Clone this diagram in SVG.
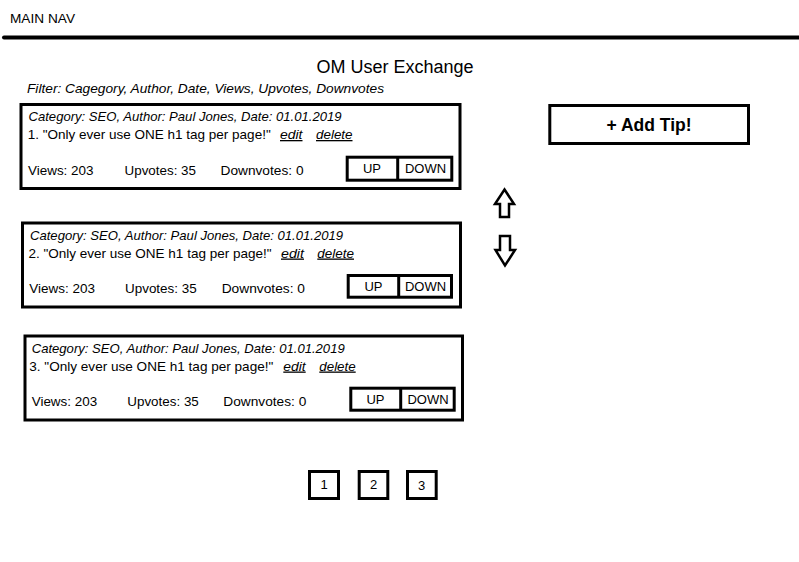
<svg xmlns="http://www.w3.org/2000/svg" width="799" height="562" viewBox="0 0 799 562">
<style>
text{font-family:"Liberation Sans",Arial,sans-serif;fill:#000;font-size:13px}
.it{font-style:italic}
.u{font-style:italic;text-decoration:underline}
.st{font-size:13.5px}
.box{fill:#fff;stroke:#000;stroke-width:3}
.div{stroke:#000;stroke-width:3}
.mid{text-anchor:middle}
.arrow{fill:#fff;stroke:#000;stroke-width:2.5;stroke-linejoin:miter}
</style>
<rect width="799" height="562" fill="#fff"/>
<g id="nav">
<text x="10" y="23" textLength="65" lengthAdjust="spacingAndGlyphs">MAIN NAV</text>
<line x1="4" y1="37.5" x2="799" y2="37.5" stroke="#000" stroke-width="4" stroke-linecap="round"/>
</g>
<g id="title">
<text x="395" y="73" class="mid" style="font-size:18px">OM User Exchange</text>
</g>
<g id="filter">
<text x="27" y="93" class="it" textLength="357" lengthAdjust="spacingAndGlyphs">Filter: Cagegory, Author, Date, Views, Upvotes, Downvotes</text>
</g>
<g id="card1">
<rect class="box" x="21" y="104.5" width="439" height="84"/>
<text x="28.5" y="121" class="it" textLength="313" lengthAdjust="spacingAndGlyphs">Category: SEO, Author: Paul Jones, Date: 01.01.2019</text>
<text x="27.7" y="139" textLength="243" lengthAdjust="spacingAndGlyphs">1. "Only ever use ONE h1 tag per page!"</text>
<text x="280" y="139" class="u" textLength="22.5" lengthAdjust="spacingAndGlyphs">edit</text>
<text x="316" y="139" class="u" textLength="36.5" lengthAdjust="spacingAndGlyphs">delete</text>
<text x="28" y="175" class="st" textLength="65.5" lengthAdjust="spacingAndGlyphs">Views: 203</text>
<text x="124.5" y="175" class="st" textLength="71.5" lengthAdjust="spacingAndGlyphs">Upvotes: 35</text>
<text x="220.5" y="175" class="st" textLength="83" lengthAdjust="spacingAndGlyphs">Downvotes: 0</text>
<g id="vote1">
<rect class="box" x="347.2" y="157.2" width="104.6" height="23"/>
<line class="div" x1="397.7" y1="157.2" x2="397.7" y2="180.2"/>
<text x="372" y="173" class="mid">UP</text>
<text x="425.5" y="173" class="mid">DOWN</text>
</g>
</g>
<g id="card2">
<rect class="box" x="22.5" y="223" width="438" height="84"/>
<text x="30" y="239.5" class="it" textLength="313" lengthAdjust="spacingAndGlyphs">Category: SEO, Author: Paul Jones, Date: 01.01.2019</text>
<text x="28.5" y="257.5" textLength="243" lengthAdjust="spacingAndGlyphs">2. "Only ever use ONE h1 tag per page!"</text>
<text x="281" y="257.5" class="u" textLength="23" lengthAdjust="spacingAndGlyphs">edit</text>
<text x="317.3" y="257.5" class="u" textLength="36.7" lengthAdjust="spacingAndGlyphs">delete</text>
<text x="29.3" y="293" class="st" textLength="65.7" lengthAdjust="spacingAndGlyphs">Views: 203</text>
<text x="125" y="293" class="st" textLength="71.7" lengthAdjust="spacingAndGlyphs">Upvotes: 35</text>
<text x="221.7" y="293" class="st" textLength="83.3" lengthAdjust="spacingAndGlyphs">Downvotes: 0</text>
<g id="vote2">
<rect class="box" x="348.2" y="275.5" width="103.3" height="21.7"/>
<line class="div" x1="398.7" y1="275.5" x2="398.7" y2="297.2"/>
<text x="373.5" y="291" class="mid">UP</text>
<text x="425.5" y="291" class="mid">DOWN</text>
</g>
</g>
<g id="card3">
<rect class="box" x="25" y="336" width="437.5" height="84"/>
<text x="31.7" y="352.5" class="it" textLength="313" lengthAdjust="spacingAndGlyphs">Category: SEO, Author: Paul Jones, Date: 01.01.2019</text>
<text x="29.3" y="370.5" textLength="244" lengthAdjust="spacingAndGlyphs">3. "Only ever use ONE h1 tag per page!"</text>
<text x="283.3" y="370.5" class="u" textLength="22.4" lengthAdjust="spacingAndGlyphs">edit</text>
<text x="319.3" y="370.5" class="u" textLength="36.4" lengthAdjust="spacingAndGlyphs">delete</text>
<text x="31.7" y="406" class="st" textLength="65.5" lengthAdjust="spacingAndGlyphs">Views: 203</text>
<text x="127.3" y="406" class="st" textLength="71.5" lengthAdjust="spacingAndGlyphs">Upvotes: 35</text>
<text x="223.3" y="406" class="st" textLength="83" lengthAdjust="spacingAndGlyphs">Downvotes: 0</text>
<g id="vote3">
<rect class="box" x="350.8" y="388.2" width="103.4" height="22"/>
<line class="div" x1="400.7" y1="388.2" x2="400.7" y2="410.2"/>
<text x="375.5" y="404" class="mid">UP</text>
<text x="428" y="404" class="mid">DOWN</text>
</g>
</g>
<g id="add-tip">
<rect class="box" x="549.8" y="105.5" width="198.7" height="38"/>
<text x="649" y="131" class="mid" style="font-weight:bold;font-size:17.5px">+ Add Tip!</text>
</g>
<g id="arrow-up">
<polygon class="arrow" points="504.5,189.5 514,204 509,204 509,217 500,217 500,204 495,204"/>
</g>
<g id="arrow-down">
<polygon class="arrow" points="500,236 510,236 510,250 515,250 505,265.5 495.5,250 500,250"/>
</g>
<g id="page1">
<rect class="box" x="309.5" y="471.5" width="29" height="27"/>
<text x="324" y="489" class="mid">1</text>
</g>
<g id="page2">
<rect class="box" x="359.2" y="471.5" width="28.6" height="27"/>
<text x="373.5" y="489" class="mid">2</text>
</g>
<g id="page3">
<rect class="box" x="407.5" y="471.5" width="28.7" height="27"/>
<text x="421.5" y="490" class="mid">3</text>
</g>
</svg>
